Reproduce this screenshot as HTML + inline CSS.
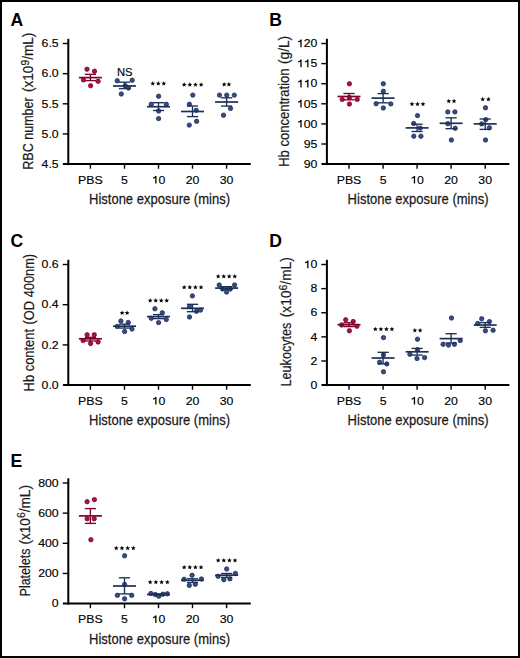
<!DOCTYPE html>
<html><head><meta charset="utf-8"><style>
html,body{margin:0;padding:0;background:#fff;}
body{width:520px;height:658px;overflow:hidden;font-family:"Liberation Sans",sans-serif;}
svg{display:block;}
text{font-family:"Liberation Sans",sans-serif;}
</style></head><body>
<svg width="520" height="658" viewBox="0 0 520 658" font-family="Liberation Sans, sans-serif">
<rect x="0" y="0" width="520" height="658" fill="#fff"/>
<g>
<text x="10.60" y="25.60" font-size="17.6" text-anchor="start" font-weight="bold" fill="#000">A</text>
<line x1="68.30" y1="38.80" x2="68.30" y2="165.10" stroke="#000" stroke-width="2.0" stroke-linecap="butt"/>
<line x1="62.90" y1="164.10" x2="250.80" y2="164.10" stroke="#000" stroke-width="2.0" stroke-linecap="butt"/>
<line x1="62.70" y1="43.50" x2="68.30" y2="43.50" stroke="#000" stroke-width="1.4" stroke-linecap="butt"/>
<text transform="translate(41.61,47.20) scale(1.06,1.0)" font-size="11.6" text-anchor="start" font-weight="normal" fill="#000" stroke="#000" stroke-width="0.15">6.5</text>
<line x1="62.70" y1="73.65" x2="68.30" y2="73.65" stroke="#000" stroke-width="1.4" stroke-linecap="butt"/>
<text transform="translate(41.61,77.35) scale(1.06,1.0)" font-size="11.6" text-anchor="start" font-weight="normal" fill="#000" stroke="#000" stroke-width="0.15">6.0</text>
<line x1="62.70" y1="103.80" x2="68.30" y2="103.80" stroke="#000" stroke-width="1.4" stroke-linecap="butt"/>
<text transform="translate(41.61,107.50) scale(1.06,1.0)" font-size="11.6" text-anchor="start" font-weight="normal" fill="#000" stroke="#000" stroke-width="0.15">5.5</text>
<line x1="62.70" y1="133.95" x2="68.30" y2="133.95" stroke="#000" stroke-width="1.4" stroke-linecap="butt"/>
<text transform="translate(41.61,137.65) scale(1.06,1.0)" font-size="11.6" text-anchor="start" font-weight="normal" fill="#000" stroke="#000" stroke-width="0.15">5.0</text>
<text transform="translate(41.61,167.80) scale(1.06,1.0)" font-size="11.6" text-anchor="start" font-weight="normal" fill="#000" stroke="#000" stroke-width="0.15">4.5</text>
<line x1="90.40" y1="164.10" x2="90.40" y2="168.70" stroke="#000" stroke-width="1.4" stroke-linecap="butt"/>
<text transform="translate(78.10,183.60) scale(1.06,1.0)" font-size="11.6" text-anchor="start" font-weight="normal" fill="#000" stroke="#000" stroke-width="0.15">PBS</text>
<line x1="124.50" y1="164.10" x2="124.50" y2="168.70" stroke="#000" stroke-width="1.4" stroke-linecap="butt"/>
<text transform="translate(121.08,183.60) scale(1.06,1.0)" font-size="11.6" text-anchor="start" font-weight="normal" fill="#000" stroke="#000" stroke-width="0.15">5</text>
<line x1="158.50" y1="164.10" x2="158.50" y2="168.70" stroke="#000" stroke-width="1.4" stroke-linecap="butt"/>
<path d="M155.87,183.60 V175.92 M156.22,176.17 C155.27,177.62 154.27,178.02 153.03,178.12" fill="none" stroke="#000" stroke-width="1.3"/>
<text transform="translate(158.50,183.60) scale(1.06,1.0)" font-size="11.6" text-anchor="start" font-weight="normal" fill="#000" stroke="#000" stroke-width="0.15">0</text>
<line x1="192.50" y1="164.10" x2="192.50" y2="168.70" stroke="#000" stroke-width="1.4" stroke-linecap="butt"/>
<text transform="translate(185.66,183.60) scale(1.06,1.0)" font-size="11.6" text-anchor="start" font-weight="normal" fill="#000" stroke="#000" stroke-width="0.15">20</text>
<line x1="226.60" y1="164.10" x2="226.60" y2="168.70" stroke="#000" stroke-width="1.4" stroke-linecap="butt"/>
<text transform="translate(219.76,183.60) scale(1.06,1.0)" font-size="11.6" text-anchor="start" font-weight="normal" fill="#000" stroke="#000" stroke-width="0.15">30</text>
<text transform="translate(89.00,204.30) scale(0.868,1.0)" font-size="15" text-anchor="start" font-weight="normal" fill="#1a1a1a" stroke="#1a1a1a" stroke-width="0.25">Histone exposure (mins)</text>
<text transform="translate(33.20,169.70) rotate(-90) scale(0.8365,1)" font-size="15" fill="#1a1a1a" stroke="#1a1a1a" stroke-width="0.2">RBC number</text>
<text transform="translate(33.20,92.00) rotate(-90) scale(0.9066,1)" font-size="15" fill="#1a1a1a" stroke="#1a1a1a" stroke-width="0.2">(x10<tspan font-size="11.4" dy="-4.6">9</tspan><tspan dy="4.6">/mL)</tspan></text>
<circle cx="87.00" cy="69.20" r="2.2" fill="#ae0e40" stroke="#70062a" stroke-width="0.75"/>
<circle cx="94.50" cy="71.20" r="2.2" fill="#ae0e40" stroke="#70062a" stroke-width="0.75"/>
<circle cx="83.40" cy="79.90" r="2.2" fill="#ae0e40" stroke="#70062a" stroke-width="0.75"/>
<circle cx="98.10" cy="81.30" r="2.2" fill="#ae0e40" stroke="#70062a" stroke-width="0.75"/>
<circle cx="90.60" cy="85.70" r="2.2" fill="#ae0e40" stroke="#70062a" stroke-width="0.75"/>
<line x1="90.40" y1="74.33" x2="90.40" y2="80.59" stroke="#7c0628" stroke-width="1.35" stroke-linecap="butt"/>
<line x1="84.80" y1="74.33" x2="96.00" y2="74.33" stroke="#7c0628" stroke-width="1.35" stroke-linecap="butt"/>
<line x1="84.80" y1="80.59" x2="96.00" y2="80.59" stroke="#7c0628" stroke-width="1.35" stroke-linecap="butt"/>
<line x1="78.90" y1="77.60" x2="101.90" y2="77.60" stroke="#7c0628" stroke-width="1.7" stroke-linecap="butt"/>
<circle cx="117.20" cy="80.80" r="2.2" fill="#354d83" stroke="#1d2a50" stroke-width="0.75"/>
<circle cx="132.20" cy="80.20" r="2.2" fill="#354d83" stroke="#1d2a50" stroke-width="0.75"/>
<circle cx="125.30" cy="85.70" r="2.2" fill="#354d83" stroke="#1d2a50" stroke-width="0.75"/>
<circle cx="128.50" cy="88.00" r="2.2" fill="#354d83" stroke="#1d2a50" stroke-width="0.75"/>
<circle cx="121.30" cy="94.00" r="2.2" fill="#354d83" stroke="#1d2a50" stroke-width="0.75"/>
<line x1="124.50" y1="82.20" x2="124.50" y2="88.60" stroke="#1c3058" stroke-width="1.35" stroke-linecap="butt"/>
<line x1="118.90" y1="82.20" x2="130.10" y2="82.20" stroke="#1c3058" stroke-width="1.35" stroke-linecap="butt"/>
<line x1="118.90" y1="88.60" x2="130.10" y2="88.60" stroke="#1c3058" stroke-width="1.35" stroke-linecap="butt"/>
<line x1="113.00" y1="86.00" x2="136.00" y2="86.00" stroke="#1c3058" stroke-width="1.7" stroke-linecap="butt"/>
<circle cx="158.60" cy="96.20" r="2.2" fill="#354d83" stroke="#1d2a50" stroke-width="0.75"/>
<circle cx="151.20" cy="104.30" r="2.2" fill="#354d83" stroke="#1d2a50" stroke-width="0.75"/>
<circle cx="166.30" cy="104.30" r="2.2" fill="#354d83" stroke="#1d2a50" stroke-width="0.75"/>
<circle cx="158.60" cy="111.00" r="2.2" fill="#354d83" stroke="#1d2a50" stroke-width="0.75"/>
<circle cx="158.60" cy="118.60" r="2.2" fill="#354d83" stroke="#1d2a50" stroke-width="0.75"/>
<line x1="158.50" y1="102.70" x2="158.50" y2="110.50" stroke="#1c3058" stroke-width="1.35" stroke-linecap="butt"/>
<line x1="152.90" y1="102.70" x2="164.10" y2="102.70" stroke="#1c3058" stroke-width="1.35" stroke-linecap="butt"/>
<line x1="152.90" y1="110.50" x2="164.10" y2="110.50" stroke="#1c3058" stroke-width="1.35" stroke-linecap="butt"/>
<line x1="147.00" y1="106.70" x2="170.00" y2="106.70" stroke="#1c3058" stroke-width="1.7" stroke-linecap="butt"/>
<circle cx="192.80" cy="95.10" r="2.2" fill="#354d83" stroke="#1d2a50" stroke-width="0.75"/>
<circle cx="189.40" cy="104.30" r="2.2" fill="#354d83" stroke="#1d2a50" stroke-width="0.75"/>
<circle cx="196.20" cy="110.30" r="2.2" fill="#354d83" stroke="#1d2a50" stroke-width="0.75"/>
<circle cx="196.60" cy="121.30" r="2.2" fill="#354d83" stroke="#1d2a50" stroke-width="0.75"/>
<circle cx="189.30" cy="125.10" r="2.2" fill="#354d83" stroke="#1d2a50" stroke-width="0.75"/>
<line x1="192.50" y1="106.00" x2="192.50" y2="116.60" stroke="#1c3058" stroke-width="1.35" stroke-linecap="butt"/>
<line x1="186.90" y1="106.00" x2="198.10" y2="106.00" stroke="#1c3058" stroke-width="1.35" stroke-linecap="butt"/>
<line x1="186.90" y1="116.60" x2="198.10" y2="116.60" stroke="#1c3058" stroke-width="1.35" stroke-linecap="butt"/>
<line x1="181.00" y1="111.50" x2="204.00" y2="111.50" stroke="#1c3058" stroke-width="1.7" stroke-linecap="butt"/>
<circle cx="219.50" cy="95.10" r="2.2" fill="#354d83" stroke="#1d2a50" stroke-width="0.75"/>
<circle cx="226.70" cy="95.10" r="2.2" fill="#354d83" stroke="#1d2a50" stroke-width="0.75"/>
<circle cx="234.30" cy="95.10" r="2.2" fill="#354d83" stroke="#1d2a50" stroke-width="0.75"/>
<circle cx="230.50" cy="108.40" r="2.2" fill="#354d83" stroke="#1d2a50" stroke-width="0.75"/>
<circle cx="223.50" cy="115.20" r="2.2" fill="#354d83" stroke="#1d2a50" stroke-width="0.75"/>
<line x1="226.60" y1="97.80" x2="226.60" y2="106.10" stroke="#1c3058" stroke-width="1.35" stroke-linecap="butt"/>
<line x1="221.00" y1="97.80" x2="232.20" y2="97.80" stroke="#1c3058" stroke-width="1.35" stroke-linecap="butt"/>
<line x1="221.00" y1="106.10" x2="232.20" y2="106.10" stroke="#1c3058" stroke-width="1.35" stroke-linecap="butt"/>
<line x1="215.10" y1="102.00" x2="238.10" y2="102.00" stroke="#1c3058" stroke-width="1.7" stroke-linecap="butt"/>
<text x="124.70" y="75.60" font-size="11.2" text-anchor="middle" font-weight="normal" fill="#000" stroke="#000" stroke-width="0.15">NS</text>
<polygon points="152.78,81.10 153.43,82.69 155.15,82.83 153.84,83.95 154.24,85.62 152.78,84.72 151.31,85.62 151.71,83.95 150.40,82.83 152.12,82.69" fill="#000"/>
<polygon points="158.30,81.10 158.96,82.69 160.68,82.83 159.37,83.95 159.77,85.62 158.30,84.72 156.83,85.62 157.23,83.95 155.92,82.83 157.64,82.69" fill="#000"/>
<polygon points="163.82,81.10 164.48,82.69 166.20,82.83 164.89,83.95 165.29,85.62 163.82,84.72 162.36,85.62 162.76,83.95 161.45,82.83 163.17,82.69" fill="#000"/>
<polygon points="184.18,82.20 184.83,83.79 186.55,83.93 185.24,85.05 185.64,86.72 184.18,85.82 182.71,86.72 183.11,85.05 181.80,83.93 183.52,83.79" fill="#000"/>
<polygon points="189.83,82.20 190.48,83.79 192.20,83.93 190.89,85.05 191.29,86.72 189.83,85.82 188.36,86.72 188.76,85.05 187.45,83.93 189.17,83.79" fill="#000"/>
<polygon points="195.47,82.20 196.13,83.79 197.85,83.93 196.54,85.05 196.94,86.72 195.47,85.82 194.01,86.72 194.41,85.05 193.10,83.93 194.82,83.79" fill="#000"/>
<polygon points="201.12,82.20 201.78,83.79 203.50,83.93 202.19,85.05 202.59,86.72 201.12,85.82 199.66,86.72 200.06,85.05 198.75,83.93 200.47,83.79" fill="#000"/>
<polygon points="224.18,82.00 224.83,83.59 226.55,83.73 225.24,84.85 225.64,86.52 224.18,85.62 222.71,86.52 223.11,84.85 221.80,83.73 223.52,83.59" fill="#000"/>
<polygon points="228.93,82.00 229.58,83.59 231.30,83.73 229.99,84.85 230.39,86.52 228.93,85.62 227.46,86.52 227.86,84.85 226.55,83.73 228.27,83.59" fill="#000"/>
<text x="269.20" y="25.60" font-size="17.6" text-anchor="start" font-weight="bold" fill="#000">B</text>
<line x1="326.90" y1="38.80" x2="326.90" y2="165.10" stroke="#000" stroke-width="2.0" stroke-linecap="butt"/>
<line x1="321.50" y1="164.10" x2="509.40" y2="164.10" stroke="#000" stroke-width="2.0" stroke-linecap="butt"/>
<line x1="321.30" y1="43.50" x2="326.90" y2="43.50" stroke="#000" stroke-width="1.4" stroke-linecap="butt"/>
<path d="M300.99,47.20 V39.52 M301.34,39.77 C300.39,41.22 299.39,41.62 298.16,41.72" fill="none" stroke="#000" stroke-width="1.3"/>
<text transform="translate(303.63,47.20) scale(1.06,1.0)" font-size="11.6" text-anchor="start" font-weight="normal" fill="#000" stroke="#000" stroke-width="0.15">20</text>
<line x1="321.30" y1="63.60" x2="326.90" y2="63.60" stroke="#000" stroke-width="1.4" stroke-linecap="butt"/>
<path d="M300.99,67.30 V59.62 M301.34,59.87 C300.39,61.32 299.39,61.72 298.16,61.82" fill="none" stroke="#000" stroke-width="1.3"/>
<path d="M307.83,67.30 V59.62 M308.18,59.87 C307.23,61.32 306.23,61.72 304.99,61.82" fill="none" stroke="#000" stroke-width="1.3"/>
<text transform="translate(310.46,67.30) scale(1.06,1.0)" font-size="11.6" text-anchor="start" font-weight="normal" fill="#000" stroke="#000" stroke-width="0.15">5</text>
<line x1="321.30" y1="83.70" x2="326.90" y2="83.70" stroke="#000" stroke-width="1.4" stroke-linecap="butt"/>
<path d="M300.99,87.40 V79.72 M301.34,79.97 C300.39,81.42 299.39,81.82 298.16,81.92" fill="none" stroke="#000" stroke-width="1.3"/>
<path d="M307.83,87.40 V79.72 M308.18,79.97 C307.23,81.42 306.23,81.82 304.99,81.92" fill="none" stroke="#000" stroke-width="1.3"/>
<text transform="translate(310.46,87.40) scale(1.06,1.0)" font-size="11.6" text-anchor="start" font-weight="normal" fill="#000" stroke="#000" stroke-width="0.15">0</text>
<line x1="321.30" y1="103.80" x2="326.90" y2="103.80" stroke="#000" stroke-width="1.4" stroke-linecap="butt"/>
<path d="M300.99,107.50 V99.82 M301.34,100.07 C300.39,101.52 299.39,101.92 298.16,102.02" fill="none" stroke="#000" stroke-width="1.3"/>
<text transform="translate(303.63,107.50) scale(1.06,1.0)" font-size="11.6" text-anchor="start" font-weight="normal" fill="#000" stroke="#000" stroke-width="0.15">05</text>
<line x1="321.30" y1="123.90" x2="326.90" y2="123.90" stroke="#000" stroke-width="1.4" stroke-linecap="butt"/>
<path d="M300.99,127.60 V119.92 M301.34,120.17 C300.39,121.62 299.39,122.02 298.16,122.12" fill="none" stroke="#000" stroke-width="1.3"/>
<text transform="translate(303.63,127.60) scale(1.06,1.0)" font-size="11.6" text-anchor="start" font-weight="normal" fill="#000" stroke="#000" stroke-width="0.15">00</text>
<line x1="321.30" y1="144.00" x2="326.90" y2="144.00" stroke="#000" stroke-width="1.4" stroke-linecap="butt"/>
<text transform="translate(303.63,147.70) scale(1.06,1.0)" font-size="11.6" text-anchor="start" font-weight="normal" fill="#000" stroke="#000" stroke-width="0.15">95</text>
<text transform="translate(303.63,167.80) scale(1.06,1.0)" font-size="11.6" text-anchor="start" font-weight="normal" fill="#000" stroke="#000" stroke-width="0.15">90</text>
<line x1="349.00" y1="164.10" x2="349.00" y2="168.70" stroke="#000" stroke-width="1.4" stroke-linecap="butt"/>
<text transform="translate(336.70,183.60) scale(1.06,1.0)" font-size="11.6" text-anchor="start" font-weight="normal" fill="#000" stroke="#000" stroke-width="0.15">PBS</text>
<line x1="383.10" y1="164.10" x2="383.10" y2="168.70" stroke="#000" stroke-width="1.4" stroke-linecap="butt"/>
<text transform="translate(379.68,183.60) scale(1.06,1.0)" font-size="11.6" text-anchor="start" font-weight="normal" fill="#000" stroke="#000" stroke-width="0.15">5</text>
<line x1="417.10" y1="164.10" x2="417.10" y2="168.70" stroke="#000" stroke-width="1.4" stroke-linecap="butt"/>
<path d="M414.47,183.60 V175.92 M414.82,176.17 C413.87,177.62 412.87,178.02 411.63,178.12" fill="none" stroke="#000" stroke-width="1.3"/>
<text transform="translate(417.10,183.60) scale(1.06,1.0)" font-size="11.6" text-anchor="start" font-weight="normal" fill="#000" stroke="#000" stroke-width="0.15">0</text>
<line x1="451.10" y1="164.10" x2="451.10" y2="168.70" stroke="#000" stroke-width="1.4" stroke-linecap="butt"/>
<text transform="translate(444.26,183.60) scale(1.06,1.0)" font-size="11.6" text-anchor="start" font-weight="normal" fill="#000" stroke="#000" stroke-width="0.15">20</text>
<line x1="485.20" y1="164.10" x2="485.20" y2="168.70" stroke="#000" stroke-width="1.4" stroke-linecap="butt"/>
<text transform="translate(478.36,183.60) scale(1.06,1.0)" font-size="11.6" text-anchor="start" font-weight="normal" fill="#000" stroke="#000" stroke-width="0.15">30</text>
<text transform="translate(347.60,204.30) scale(0.868,1.0)" font-size="15" text-anchor="start" font-weight="normal" fill="#1a1a1a" stroke="#1a1a1a" stroke-width="0.25">Histone exposure (mins)</text>
<text transform="translate(289.00,166.80) rotate(-90) scale(0.8686,1)" font-size="15" fill="#1a1a1a" stroke="#1a1a1a" stroke-width="0.2">Hb concentration</text>
<text transform="translate(289.00,63.90) rotate(-90) scale(0.9065,1)" font-size="15" fill="#1a1a1a" stroke="#1a1a1a" stroke-width="0.2">(g/L)</text>
<circle cx="349.40" cy="83.80" r="2.2" fill="#ae0e40" stroke="#70062a" stroke-width="0.75"/>
<circle cx="342.20" cy="99.40" r="2.2" fill="#ae0e40" stroke="#70062a" stroke-width="0.75"/>
<circle cx="357.20" cy="99.40" r="2.2" fill="#ae0e40" stroke="#70062a" stroke-width="0.75"/>
<circle cx="349.40" cy="104.00" r="2.2" fill="#ae0e40" stroke="#70062a" stroke-width="0.75"/>
<circle cx="349.40" cy="97.50" r="2.2" fill="#ae0e40" stroke="#70062a" stroke-width="0.75"/>
<line x1="349.00" y1="93.50" x2="349.00" y2="99.80" stroke="#7c0628" stroke-width="1.35" stroke-linecap="butt"/>
<line x1="343.40" y1="93.50" x2="354.60" y2="93.50" stroke="#7c0628" stroke-width="1.35" stroke-linecap="butt"/>
<line x1="343.40" y1="99.80" x2="354.60" y2="99.80" stroke="#7c0628" stroke-width="1.35" stroke-linecap="butt"/>
<line x1="337.50" y1="96.50" x2="360.50" y2="96.50" stroke="#7c0628" stroke-width="1.7" stroke-linecap="butt"/>
<circle cx="383.30" cy="83.80" r="2.2" fill="#354d83" stroke="#1d2a50" stroke-width="0.75"/>
<circle cx="383.30" cy="91.30" r="2.2" fill="#354d83" stroke="#1d2a50" stroke-width="0.75"/>
<circle cx="376.10" cy="103.70" r="2.2" fill="#354d83" stroke="#1d2a50" stroke-width="0.75"/>
<circle cx="390.80" cy="103.90" r="2.2" fill="#354d83" stroke="#1d2a50" stroke-width="0.75"/>
<circle cx="383.30" cy="108.00" r="2.2" fill="#354d83" stroke="#1d2a50" stroke-width="0.75"/>
<line x1="383.10" y1="93.60" x2="383.10" y2="102.80" stroke="#1c3058" stroke-width="1.35" stroke-linecap="butt"/>
<line x1="377.50" y1="93.60" x2="388.70" y2="93.60" stroke="#1c3058" stroke-width="1.35" stroke-linecap="butt"/>
<line x1="377.50" y1="102.80" x2="388.70" y2="102.80" stroke="#1c3058" stroke-width="1.35" stroke-linecap="butt"/>
<line x1="371.60" y1="98.10" x2="394.60" y2="98.10" stroke="#1c3058" stroke-width="1.7" stroke-linecap="butt"/>
<circle cx="417.50" cy="115.60" r="2.2" fill="#354d83" stroke="#1d2a50" stroke-width="0.75"/>
<circle cx="413.70" cy="123.50" r="2.2" fill="#354d83" stroke="#1d2a50" stroke-width="0.75"/>
<circle cx="420.20" cy="128.10" r="2.2" fill="#354d83" stroke="#1d2a50" stroke-width="0.75"/>
<circle cx="413.80" cy="136.20" r="2.2" fill="#354d83" stroke="#1d2a50" stroke-width="0.75"/>
<circle cx="420.90" cy="136.20" r="2.2" fill="#354d83" stroke="#1d2a50" stroke-width="0.75"/>
<line x1="417.10" y1="124.20" x2="417.10" y2="131.50" stroke="#1c3058" stroke-width="1.35" stroke-linecap="butt"/>
<line x1="411.50" y1="124.20" x2="422.70" y2="124.20" stroke="#1c3058" stroke-width="1.35" stroke-linecap="butt"/>
<line x1="411.50" y1="131.50" x2="422.70" y2="131.50" stroke="#1c3058" stroke-width="1.35" stroke-linecap="butt"/>
<line x1="405.60" y1="127.90" x2="428.60" y2="127.90" stroke="#1c3058" stroke-width="1.7" stroke-linecap="butt"/>
<circle cx="447.80" cy="111.90" r="2.2" fill="#354d83" stroke="#1d2a50" stroke-width="0.75"/>
<circle cx="454.90" cy="111.90" r="2.2" fill="#354d83" stroke="#1d2a50" stroke-width="0.75"/>
<circle cx="447.80" cy="123.70" r="2.2" fill="#354d83" stroke="#1d2a50" stroke-width="0.75"/>
<circle cx="455.20" cy="128.30" r="2.2" fill="#354d83" stroke="#1d2a50" stroke-width="0.75"/>
<circle cx="451.40" cy="140.00" r="2.2" fill="#354d83" stroke="#1d2a50" stroke-width="0.75"/>
<line x1="451.10" y1="117.80" x2="451.10" y2="128.70" stroke="#1c3058" stroke-width="1.35" stroke-linecap="butt"/>
<line x1="445.50" y1="117.80" x2="456.70" y2="117.80" stroke="#1c3058" stroke-width="1.35" stroke-linecap="butt"/>
<line x1="445.50" y1="128.70" x2="456.70" y2="128.70" stroke="#1c3058" stroke-width="1.35" stroke-linecap="butt"/>
<line x1="439.60" y1="123.30" x2="462.60" y2="123.30" stroke="#1c3058" stroke-width="1.7" stroke-linecap="butt"/>
<circle cx="485.50" cy="107.80" r="2.2" fill="#354d83" stroke="#1d2a50" stroke-width="0.75"/>
<circle cx="485.80" cy="119.60" r="2.2" fill="#354d83" stroke="#1d2a50" stroke-width="0.75"/>
<circle cx="481.70" cy="123.90" r="2.2" fill="#354d83" stroke="#1d2a50" stroke-width="0.75"/>
<circle cx="489.40" cy="127.80" r="2.2" fill="#354d83" stroke="#1d2a50" stroke-width="0.75"/>
<circle cx="485.50" cy="140.00" r="2.2" fill="#354d83" stroke="#1d2a50" stroke-width="0.75"/>
<line x1="485.20" y1="119.00" x2="485.20" y2="129.40" stroke="#1c3058" stroke-width="1.35" stroke-linecap="butt"/>
<line x1="479.60" y1="119.00" x2="490.80" y2="119.00" stroke="#1c3058" stroke-width="1.35" stroke-linecap="butt"/>
<line x1="479.60" y1="129.40" x2="490.80" y2="129.40" stroke="#1c3058" stroke-width="1.35" stroke-linecap="butt"/>
<line x1="473.70" y1="123.90" x2="496.70" y2="123.90" stroke="#1c3058" stroke-width="1.7" stroke-linecap="butt"/>
<polygon points="411.98,101.55 412.63,103.14 414.35,103.28 413.04,104.40 413.44,106.07 411.98,105.17 410.51,106.07 410.91,104.40 409.60,103.28 411.32,103.14" fill="#000"/>
<polygon points="417.50,101.55 418.16,103.14 419.88,103.28 418.57,104.40 418.97,106.07 417.50,105.17 416.03,106.07 416.43,104.40 415.12,103.28 416.84,103.14" fill="#000"/>
<polygon points="423.02,101.55 423.68,103.14 425.40,103.28 424.09,104.40 424.49,106.07 423.02,105.17 421.56,106.07 421.96,104.40 420.65,103.28 422.37,103.14" fill="#000"/>
<polygon points="448.77,98.70 449.43,100.29 451.15,100.43 449.84,101.55 450.24,103.22 448.77,102.32 447.31,103.22 447.71,101.55 446.40,100.43 448.12,100.29" fill="#000"/>
<polygon points="454.02,98.70 454.68,100.29 456.40,100.43 455.09,101.55 455.49,103.22 454.02,102.32 452.56,103.22 452.96,101.55 451.65,100.43 453.37,100.29" fill="#000"/>
<polygon points="482.68,96.80 483.33,98.39 485.05,98.53 483.74,99.65 484.14,101.32 482.68,100.42 481.21,101.32 481.61,99.65 480.30,98.53 482.02,98.39" fill="#000"/>
<polygon points="488.43,96.80 489.08,98.39 490.80,98.53 489.49,99.65 489.89,101.32 488.43,100.42 486.96,101.32 487.36,99.65 486.05,98.53 487.77,98.39" fill="#000"/>
<text x="10.60" y="246.60" font-size="17.6" text-anchor="start" font-weight="bold" fill="#000">C</text>
<line x1="68.30" y1="259.80" x2="68.30" y2="386.10" stroke="#000" stroke-width="2.0" stroke-linecap="butt"/>
<line x1="62.90" y1="385.10" x2="250.80" y2="385.10" stroke="#000" stroke-width="2.0" stroke-linecap="butt"/>
<line x1="62.70" y1="264.50" x2="68.30" y2="264.50" stroke="#000" stroke-width="1.4" stroke-linecap="butt"/>
<text transform="translate(41.61,268.20) scale(1.06,1.0)" font-size="11.6" text-anchor="start" font-weight="normal" fill="#000" stroke="#000" stroke-width="0.15">0.6</text>
<line x1="62.70" y1="304.70" x2="68.30" y2="304.70" stroke="#000" stroke-width="1.4" stroke-linecap="butt"/>
<text transform="translate(41.61,308.40) scale(1.06,1.0)" font-size="11.6" text-anchor="start" font-weight="normal" fill="#000" stroke="#000" stroke-width="0.15">0.4</text>
<line x1="62.70" y1="344.90" x2="68.30" y2="344.90" stroke="#000" stroke-width="1.4" stroke-linecap="butt"/>
<text transform="translate(41.61,348.60) scale(1.06,1.0)" font-size="11.6" text-anchor="start" font-weight="normal" fill="#000" stroke="#000" stroke-width="0.15">0.2</text>
<text transform="translate(41.61,388.80) scale(1.06,1.0)" font-size="11.6" text-anchor="start" font-weight="normal" fill="#000" stroke="#000" stroke-width="0.15">0.0</text>
<line x1="90.40" y1="385.10" x2="90.40" y2="389.70" stroke="#000" stroke-width="1.4" stroke-linecap="butt"/>
<text transform="translate(78.10,404.60) scale(1.06,1.0)" font-size="11.6" text-anchor="start" font-weight="normal" fill="#000" stroke="#000" stroke-width="0.15">PBS</text>
<line x1="124.50" y1="385.10" x2="124.50" y2="389.70" stroke="#000" stroke-width="1.4" stroke-linecap="butt"/>
<text transform="translate(121.08,404.60) scale(1.06,1.0)" font-size="11.6" text-anchor="start" font-weight="normal" fill="#000" stroke="#000" stroke-width="0.15">5</text>
<line x1="158.50" y1="385.10" x2="158.50" y2="389.70" stroke="#000" stroke-width="1.4" stroke-linecap="butt"/>
<path d="M155.87,404.60 V396.92 M156.22,397.17 C155.27,398.62 154.27,399.02 153.03,399.12" fill="none" stroke="#000" stroke-width="1.3"/>
<text transform="translate(158.50,404.60) scale(1.06,1.0)" font-size="11.6" text-anchor="start" font-weight="normal" fill="#000" stroke="#000" stroke-width="0.15">0</text>
<line x1="192.50" y1="385.10" x2="192.50" y2="389.70" stroke="#000" stroke-width="1.4" stroke-linecap="butt"/>
<text transform="translate(185.66,404.60) scale(1.06,1.0)" font-size="11.6" text-anchor="start" font-weight="normal" fill="#000" stroke="#000" stroke-width="0.15">20</text>
<line x1="226.60" y1="385.10" x2="226.60" y2="389.70" stroke="#000" stroke-width="1.4" stroke-linecap="butt"/>
<text transform="translate(219.76,404.60) scale(1.06,1.0)" font-size="11.6" text-anchor="start" font-weight="normal" fill="#000" stroke="#000" stroke-width="0.15">30</text>
<text transform="translate(89.00,425.30) scale(0.868,1.0)" font-size="15" text-anchor="start" font-weight="normal" fill="#1a1a1a" stroke="#1a1a1a" stroke-width="0.25">Histone exposure (mins)</text>
<text transform="translate(33.80,391.40) rotate(-90) scale(0.861,1)" font-size="15" fill="#1a1a1a" stroke="#1a1a1a" stroke-width="0.2">Hb content</text>
<text transform="translate(33.80,324.40) rotate(-90) scale(0.855,1)" font-size="15" fill="#1a1a1a" stroke="#1a1a1a" stroke-width="0.2">(OD 400nm)</text>
<circle cx="87.10" cy="334.80" r="2.2" fill="#ae0e40" stroke="#70062a" stroke-width="0.75"/>
<circle cx="94.30" cy="334.80" r="2.2" fill="#ae0e40" stroke="#70062a" stroke-width="0.75"/>
<circle cx="83.10" cy="340.60" r="2.2" fill="#ae0e40" stroke="#70062a" stroke-width="0.75"/>
<circle cx="90.60" cy="343.50" r="2.2" fill="#ae0e40" stroke="#70062a" stroke-width="0.75"/>
<circle cx="98.10" cy="342.00" r="2.2" fill="#ae0e40" stroke="#70062a" stroke-width="0.75"/>
<line x1="90.40" y1="337.31" x2="90.40" y2="340.97" stroke="#7c0628" stroke-width="1.35" stroke-linecap="butt"/>
<line x1="84.80" y1="337.31" x2="96.00" y2="337.31" stroke="#7c0628" stroke-width="1.35" stroke-linecap="butt"/>
<line x1="84.80" y1="340.97" x2="96.00" y2="340.97" stroke="#7c0628" stroke-width="1.35" stroke-linecap="butt"/>
<line x1="78.90" y1="338.80" x2="101.90" y2="338.80" stroke="#7c0628" stroke-width="1.7" stroke-linecap="butt"/>
<circle cx="120.90" cy="321.00" r="2.2" fill="#354d83" stroke="#1d2a50" stroke-width="0.75"/>
<circle cx="128.30" cy="322.50" r="2.2" fill="#354d83" stroke="#1d2a50" stroke-width="0.75"/>
<circle cx="117.20" cy="326.50" r="2.2" fill="#354d83" stroke="#1d2a50" stroke-width="0.75"/>
<circle cx="124.60" cy="331.50" r="2.2" fill="#354d83" stroke="#1d2a50" stroke-width="0.75"/>
<circle cx="132.00" cy="329.00" r="2.2" fill="#354d83" stroke="#1d2a50" stroke-width="0.75"/>
<line x1="124.50" y1="324.14" x2="124.50" y2="328.06" stroke="#1c3058" stroke-width="1.35" stroke-linecap="butt"/>
<line x1="118.90" y1="324.14" x2="130.10" y2="324.14" stroke="#1c3058" stroke-width="1.35" stroke-linecap="butt"/>
<line x1="118.90" y1="328.06" x2="130.10" y2="328.06" stroke="#1c3058" stroke-width="1.35" stroke-linecap="butt"/>
<line x1="113.00" y1="326.20" x2="136.00" y2="326.20" stroke="#1c3058" stroke-width="1.7" stroke-linecap="butt"/>
<circle cx="154.90" cy="308.80" r="2.2" fill="#354d83" stroke="#1d2a50" stroke-width="0.75"/>
<circle cx="162.30" cy="312.80" r="2.2" fill="#354d83" stroke="#1d2a50" stroke-width="0.75"/>
<circle cx="151.20" cy="318.30" r="2.2" fill="#354d83" stroke="#1d2a50" stroke-width="0.75"/>
<circle cx="166.30" cy="319.50" r="2.2" fill="#354d83" stroke="#1d2a50" stroke-width="0.75"/>
<circle cx="158.60" cy="322.60" r="2.2" fill="#354d83" stroke="#1d2a50" stroke-width="0.75"/>
<line x1="158.50" y1="314.60" x2="158.50" y2="318.60" stroke="#1c3058" stroke-width="1.35" stroke-linecap="butt"/>
<line x1="152.90" y1="314.60" x2="164.10" y2="314.60" stroke="#1c3058" stroke-width="1.35" stroke-linecap="butt"/>
<line x1="152.90" y1="318.60" x2="164.10" y2="318.60" stroke="#1c3058" stroke-width="1.35" stroke-linecap="butt"/>
<line x1="147.00" y1="316.60" x2="170.00" y2="316.60" stroke="#1c3058" stroke-width="1.7" stroke-linecap="butt"/>
<circle cx="192.40" cy="295.90" r="2.2" fill="#354d83" stroke="#1d2a50" stroke-width="0.75"/>
<circle cx="189.50" cy="306.70" r="2.2" fill="#354d83" stroke="#1d2a50" stroke-width="0.75"/>
<circle cx="196.50" cy="311.30" r="2.2" fill="#354d83" stroke="#1d2a50" stroke-width="0.75"/>
<circle cx="200.50" cy="310.10" r="2.2" fill="#354d83" stroke="#1d2a50" stroke-width="0.75"/>
<circle cx="189.50" cy="317.00" r="2.2" fill="#354d83" stroke="#1d2a50" stroke-width="0.75"/>
<line x1="192.50" y1="304.30" x2="192.50" y2="311.70" stroke="#1c3058" stroke-width="1.35" stroke-linecap="butt"/>
<line x1="186.90" y1="304.30" x2="198.10" y2="304.30" stroke="#1c3058" stroke-width="1.35" stroke-linecap="butt"/>
<line x1="186.90" y1="311.70" x2="198.10" y2="311.70" stroke="#1c3058" stroke-width="1.35" stroke-linecap="butt"/>
<line x1="181.00" y1="308.30" x2="204.00" y2="308.30" stroke="#1c3058" stroke-width="1.7" stroke-linecap="butt"/>
<circle cx="219.20" cy="285.00" r="2.2" fill="#354d83" stroke="#1d2a50" stroke-width="0.75"/>
<circle cx="234.60" cy="285.00" r="2.2" fill="#354d83" stroke="#1d2a50" stroke-width="0.75"/>
<circle cx="222.60" cy="289.00" r="2.2" fill="#354d83" stroke="#1d2a50" stroke-width="0.75"/>
<circle cx="230.30" cy="289.00" r="2.2" fill="#354d83" stroke="#1d2a50" stroke-width="0.75"/>
<circle cx="226.60" cy="292.10" r="2.2" fill="#354d83" stroke="#1d2a50" stroke-width="0.75"/>
<line x1="226.60" y1="286.66" x2="226.60" y2="289.38" stroke="#1c3058" stroke-width="1.35" stroke-linecap="butt"/>
<line x1="221.00" y1="286.66" x2="232.20" y2="286.66" stroke="#1c3058" stroke-width="1.35" stroke-linecap="butt"/>
<line x1="221.00" y1="289.38" x2="232.20" y2="289.38" stroke="#1c3058" stroke-width="1.35" stroke-linecap="butt"/>
<line x1="215.10" y1="288.10" x2="238.10" y2="288.10" stroke="#1c3058" stroke-width="1.7" stroke-linecap="butt"/>
<polygon points="122.08,310.50 122.73,312.09 124.45,312.23 123.14,313.35 123.54,315.02 122.08,314.12 120.61,315.02 121.01,313.35 119.70,312.23 121.42,312.09" fill="#000"/>
<polygon points="127.12,310.50 127.78,312.09 129.50,312.23 128.19,313.35 128.59,315.02 127.12,314.12 125.66,315.02 126.06,313.35 124.75,312.23 126.47,312.09" fill="#000"/>
<polygon points="150.18,298.10 150.83,299.69 152.55,299.83 151.24,300.95 151.64,302.62 150.18,301.72 148.71,302.62 149.11,300.95 147.80,299.83 149.52,299.69" fill="#000"/>
<polygon points="155.69,298.10 156.35,299.69 158.07,299.83 156.76,300.95 157.16,302.62 155.69,301.72 154.22,302.62 154.63,300.95 153.31,299.83 155.03,299.69" fill="#000"/>
<polygon points="161.21,298.10 161.87,299.69 163.59,299.83 162.27,300.95 162.68,302.62 161.21,301.72 159.74,302.62 160.14,300.95 158.83,299.83 160.55,299.69" fill="#000"/>
<polygon points="166.72,298.10 167.38,299.69 169.10,299.83 167.79,300.95 168.19,302.62 166.72,301.72 165.26,302.62 165.66,300.95 164.35,299.83 166.07,299.69" fill="#000"/>
<polygon points="184.18,284.80 184.83,286.39 186.55,286.53 185.24,287.65 185.64,289.32 184.18,288.42 182.71,289.32 183.11,287.65 181.80,286.53 183.52,286.39" fill="#000"/>
<polygon points="189.79,284.80 190.45,286.39 192.17,286.53 190.86,287.65 191.26,289.32 189.79,288.42 188.32,289.32 188.73,287.65 187.41,286.53 189.13,286.39" fill="#000"/>
<polygon points="195.41,284.80 196.07,286.39 197.79,286.53 196.47,287.65 196.88,289.32 195.41,288.42 193.94,289.32 194.34,287.65 193.03,286.53 194.75,286.39" fill="#000"/>
<polygon points="201.03,284.80 201.68,286.39 203.40,286.53 202.09,287.65 202.49,289.32 201.03,288.42 199.56,289.32 199.96,287.65 198.65,286.53 200.37,286.39" fill="#000"/>
<polygon points="218.18,274.00 218.83,275.59 220.55,275.73 219.24,276.85 219.64,278.52 218.18,277.62 216.71,278.52 217.11,276.85 215.80,275.73 217.52,275.59" fill="#000"/>
<polygon points="223.69,274.00 224.35,275.59 226.07,275.73 224.76,276.85 225.16,278.52 223.69,277.62 222.22,278.52 222.63,276.85 221.31,275.73 223.03,275.59" fill="#000"/>
<polygon points="229.21,274.00 229.87,275.59 231.59,275.73 230.27,276.85 230.68,278.52 229.21,277.62 227.74,278.52 228.14,276.85 226.83,275.73 228.55,275.59" fill="#000"/>
<polygon points="234.72,274.00 235.38,275.59 237.10,275.73 235.79,276.85 236.19,278.52 234.72,277.62 233.26,278.52 233.66,276.85 232.35,275.73 234.07,275.59" fill="#000"/>
<text x="269.20" y="246.60" font-size="17.6" text-anchor="start" font-weight="bold" fill="#000">D</text>
<line x1="326.90" y1="259.80" x2="326.90" y2="386.10" stroke="#000" stroke-width="2.0" stroke-linecap="butt"/>
<line x1="321.50" y1="385.10" x2="509.40" y2="385.10" stroke="#000" stroke-width="2.0" stroke-linecap="butt"/>
<line x1="321.30" y1="264.50" x2="326.90" y2="264.50" stroke="#000" stroke-width="1.4" stroke-linecap="butt"/>
<path d="M307.83,268.20 V260.52 M308.18,260.77 C307.23,262.22 306.23,262.62 304.99,262.72" fill="none" stroke="#000" stroke-width="1.3"/>
<text transform="translate(310.46,268.20) scale(1.06,1.0)" font-size="11.6" text-anchor="start" font-weight="normal" fill="#000" stroke="#000" stroke-width="0.15">0</text>
<line x1="321.30" y1="288.62" x2="326.90" y2="288.62" stroke="#000" stroke-width="1.4" stroke-linecap="butt"/>
<text transform="translate(310.46,292.32) scale(1.06,1.0)" font-size="11.6" text-anchor="start" font-weight="normal" fill="#000" stroke="#000" stroke-width="0.15">8</text>
<line x1="321.30" y1="312.74" x2="326.90" y2="312.74" stroke="#000" stroke-width="1.4" stroke-linecap="butt"/>
<text transform="translate(310.46,316.44) scale(1.06,1.0)" font-size="11.6" text-anchor="start" font-weight="normal" fill="#000" stroke="#000" stroke-width="0.15">6</text>
<line x1="321.30" y1="336.86" x2="326.90" y2="336.86" stroke="#000" stroke-width="1.4" stroke-linecap="butt"/>
<text transform="translate(310.46,340.56) scale(1.06,1.0)" font-size="11.6" text-anchor="start" font-weight="normal" fill="#000" stroke="#000" stroke-width="0.15">4</text>
<line x1="321.30" y1="360.98" x2="326.90" y2="360.98" stroke="#000" stroke-width="1.4" stroke-linecap="butt"/>
<text transform="translate(310.46,364.68) scale(1.06,1.0)" font-size="11.6" text-anchor="start" font-weight="normal" fill="#000" stroke="#000" stroke-width="0.15">2</text>
<text transform="translate(310.46,388.80) scale(1.06,1.0)" font-size="11.6" text-anchor="start" font-weight="normal" fill="#000" stroke="#000" stroke-width="0.15">0</text>
<line x1="349.00" y1="385.10" x2="349.00" y2="389.70" stroke="#000" stroke-width="1.4" stroke-linecap="butt"/>
<text transform="translate(336.70,404.60) scale(1.06,1.0)" font-size="11.6" text-anchor="start" font-weight="normal" fill="#000" stroke="#000" stroke-width="0.15">PBS</text>
<line x1="383.10" y1="385.10" x2="383.10" y2="389.70" stroke="#000" stroke-width="1.4" stroke-linecap="butt"/>
<text transform="translate(379.68,404.60) scale(1.06,1.0)" font-size="11.6" text-anchor="start" font-weight="normal" fill="#000" stroke="#000" stroke-width="0.15">5</text>
<line x1="417.10" y1="385.10" x2="417.10" y2="389.70" stroke="#000" stroke-width="1.4" stroke-linecap="butt"/>
<path d="M414.47,404.60 V396.92 M414.82,397.17 C413.87,398.62 412.87,399.02 411.63,399.12" fill="none" stroke="#000" stroke-width="1.3"/>
<text transform="translate(417.10,404.60) scale(1.06,1.0)" font-size="11.6" text-anchor="start" font-weight="normal" fill="#000" stroke="#000" stroke-width="0.15">0</text>
<line x1="451.10" y1="385.10" x2="451.10" y2="389.70" stroke="#000" stroke-width="1.4" stroke-linecap="butt"/>
<text transform="translate(444.26,404.60) scale(1.06,1.0)" font-size="11.6" text-anchor="start" font-weight="normal" fill="#000" stroke="#000" stroke-width="0.15">20</text>
<line x1="485.20" y1="385.10" x2="485.20" y2="389.70" stroke="#000" stroke-width="1.4" stroke-linecap="butt"/>
<text transform="translate(478.36,404.60) scale(1.06,1.0)" font-size="11.6" text-anchor="start" font-weight="normal" fill="#000" stroke="#000" stroke-width="0.15">30</text>
<text transform="translate(347.60,425.30) scale(0.868,1.0)" font-size="15" text-anchor="start" font-weight="normal" fill="#1a1a1a" stroke="#1a1a1a" stroke-width="0.25">Histone exposure (mins)</text>
<text transform="translate(291.40,386.40) rotate(-90) scale(0.841,1)" font-size="15" fill="#1a1a1a" stroke="#1a1a1a" stroke-width="0.2">Leukocytes</text>
<text transform="translate(291.40,317.20) rotate(-90) scale(0.916,1)" font-size="15" fill="#1a1a1a" stroke="#1a1a1a" stroke-width="0.2">(x10<tspan font-size="11.4" dy="-4.6">6</tspan><tspan dy="4.6">/mL)</tspan></text>
<circle cx="345.70" cy="319.80" r="2.2" fill="#ae0e40" stroke="#70062a" stroke-width="0.75"/>
<circle cx="353.20" cy="321.50" r="2.2" fill="#ae0e40" stroke="#70062a" stroke-width="0.75"/>
<circle cx="341.60" cy="325.00" r="2.2" fill="#ae0e40" stroke="#70062a" stroke-width="0.75"/>
<circle cx="356.90" cy="326.20" r="2.2" fill="#ae0e40" stroke="#70062a" stroke-width="0.75"/>
<circle cx="349.40" cy="330.80" r="2.2" fill="#ae0e40" stroke="#70062a" stroke-width="0.75"/>
<line x1="349.00" y1="322.74" x2="349.00" y2="326.58" stroke="#7c0628" stroke-width="1.35" stroke-linecap="butt"/>
<line x1="343.40" y1="322.74" x2="354.60" y2="322.74" stroke="#7c0628" stroke-width="1.35" stroke-linecap="butt"/>
<line x1="343.40" y1="326.58" x2="354.60" y2="326.58" stroke="#7c0628" stroke-width="1.35" stroke-linecap="butt"/>
<line x1="337.50" y1="324.70" x2="360.50" y2="324.70" stroke="#7c0628" stroke-width="1.7" stroke-linecap="butt"/>
<circle cx="383.50" cy="337.60" r="2.2" fill="#354d83" stroke="#1d2a50" stroke-width="0.75"/>
<circle cx="383.50" cy="355.00" r="2.2" fill="#354d83" stroke="#1d2a50" stroke-width="0.75"/>
<circle cx="379.70" cy="362.20" r="2.2" fill="#354d83" stroke="#1d2a50" stroke-width="0.75"/>
<circle cx="386.80" cy="363.90" r="2.2" fill="#354d83" stroke="#1d2a50" stroke-width="0.75"/>
<circle cx="383.50" cy="371.80" r="2.2" fill="#354d83" stroke="#1d2a50" stroke-width="0.75"/>
<line x1="383.10" y1="352.32" x2="383.10" y2="363.88" stroke="#1c3058" stroke-width="1.35" stroke-linecap="butt"/>
<line x1="377.50" y1="352.32" x2="388.70" y2="352.32" stroke="#1c3058" stroke-width="1.35" stroke-linecap="butt"/>
<line x1="377.50" y1="363.88" x2="388.70" y2="363.88" stroke="#1c3058" stroke-width="1.35" stroke-linecap="butt"/>
<line x1="371.60" y1="358.00" x2="394.60" y2="358.00" stroke="#1c3058" stroke-width="1.7" stroke-linecap="butt"/>
<circle cx="417.50" cy="339.20" r="2.2" fill="#354d83" stroke="#1d2a50" stroke-width="0.75"/>
<circle cx="417.50" cy="349.70" r="2.2" fill="#354d83" stroke="#1d2a50" stroke-width="0.75"/>
<circle cx="409.90" cy="354.30" r="2.2" fill="#354d83" stroke="#1d2a50" stroke-width="0.75"/>
<circle cx="417.00" cy="358.50" r="2.2" fill="#354d83" stroke="#1d2a50" stroke-width="0.75"/>
<circle cx="424.60" cy="357.60" r="2.2" fill="#354d83" stroke="#1d2a50" stroke-width="0.75"/>
<line x1="417.10" y1="348.40" x2="417.10" y2="355.10" stroke="#1c3058" stroke-width="1.35" stroke-linecap="butt"/>
<line x1="411.50" y1="348.40" x2="422.70" y2="348.40" stroke="#1c3058" stroke-width="1.35" stroke-linecap="butt"/>
<line x1="411.50" y1="355.10" x2="422.70" y2="355.10" stroke="#1c3058" stroke-width="1.35" stroke-linecap="butt"/>
<line x1="405.60" y1="351.80" x2="428.60" y2="351.80" stroke="#1c3058" stroke-width="1.7" stroke-linecap="butt"/>
<circle cx="451.50" cy="318.00" r="2.2" fill="#354d83" stroke="#1d2a50" stroke-width="0.75"/>
<circle cx="443.10" cy="344.30" r="2.2" fill="#354d83" stroke="#1d2a50" stroke-width="0.75"/>
<circle cx="448.50" cy="345.10" r="2.2" fill="#354d83" stroke="#1d2a50" stroke-width="0.75"/>
<circle cx="454.40" cy="344.30" r="2.2" fill="#354d83" stroke="#1d2a50" stroke-width="0.75"/>
<circle cx="460.20" cy="340.50" r="2.2" fill="#354d83" stroke="#1d2a50" stroke-width="0.75"/>
<line x1="451.10" y1="333.70" x2="451.10" y2="343.00" stroke="#1c3058" stroke-width="1.35" stroke-linecap="butt"/>
<line x1="445.50" y1="333.70" x2="456.70" y2="333.70" stroke="#1c3058" stroke-width="1.35" stroke-linecap="butt"/>
<line x1="445.50" y1="343.00" x2="456.70" y2="343.00" stroke="#1c3058" stroke-width="1.35" stroke-linecap="butt"/>
<line x1="439.60" y1="338.60" x2="462.60" y2="338.60" stroke="#1c3058" stroke-width="1.7" stroke-linecap="butt"/>
<circle cx="481.70" cy="318.80" r="2.2" fill="#354d83" stroke="#1d2a50" stroke-width="0.75"/>
<circle cx="489.40" cy="321.60" r="2.2" fill="#354d83" stroke="#1d2a50" stroke-width="0.75"/>
<circle cx="477.70" cy="323.50" r="2.2" fill="#354d83" stroke="#1d2a50" stroke-width="0.75"/>
<circle cx="485.40" cy="330.80" r="2.2" fill="#354d83" stroke="#1d2a50" stroke-width="0.75"/>
<circle cx="493.10" cy="330.20" r="2.2" fill="#354d83" stroke="#1d2a50" stroke-width="0.75"/>
<line x1="485.20" y1="322.60" x2="485.20" y2="327.36" stroke="#1c3058" stroke-width="1.35" stroke-linecap="butt"/>
<line x1="479.60" y1="322.60" x2="490.80" y2="322.60" stroke="#1c3058" stroke-width="1.35" stroke-linecap="butt"/>
<line x1="479.60" y1="327.36" x2="490.80" y2="327.36" stroke="#1c3058" stroke-width="1.35" stroke-linecap="butt"/>
<line x1="473.70" y1="325.00" x2="496.70" y2="325.00" stroke="#1c3058" stroke-width="1.7" stroke-linecap="butt"/>
<polygon points="375.38,326.70 376.03,328.29 377.75,328.43 376.44,329.55 376.84,331.22 375.38,330.32 373.91,331.22 374.31,329.55 373.00,328.43 374.72,328.29" fill="#000"/>
<polygon points="380.89,326.70 381.55,328.29 383.27,328.43 381.96,329.55 382.36,331.22 380.89,330.32 379.42,331.22 379.83,329.55 378.51,328.43 380.23,328.29" fill="#000"/>
<polygon points="386.41,326.70 387.07,328.29 388.79,328.43 387.47,329.55 387.88,331.22 386.41,330.32 384.94,331.22 385.34,329.55 384.03,328.43 385.75,328.29" fill="#000"/>
<polygon points="391.93,326.70 392.58,328.29 394.30,328.43 392.99,329.55 393.39,331.22 391.93,330.32 390.46,331.22 390.86,329.55 389.55,328.43 391.27,328.29" fill="#000"/>
<polygon points="414.88,327.95 415.53,329.54 417.25,329.68 415.94,330.80 416.34,332.47 414.88,331.57 413.41,332.47 413.81,330.80 412.50,329.68 414.22,329.54" fill="#000"/>
<polygon points="420.12,327.95 420.78,329.54 422.50,329.68 421.19,330.80 421.59,332.47 420.12,331.57 418.66,332.47 419.06,330.80 417.75,329.68 419.47,329.54" fill="#000"/>
<text x="10.60" y="467.40" font-size="17.6" text-anchor="start" font-weight="bold" fill="#000">E</text>
<line x1="68.30" y1="478.30" x2="68.30" y2="604.60" stroke="#000" stroke-width="2.0" stroke-linecap="butt"/>
<line x1="62.90" y1="603.60" x2="250.80" y2="603.60" stroke="#000" stroke-width="2.0" stroke-linecap="butt"/>
<line x1="62.70" y1="483.00" x2="68.30" y2="483.00" stroke="#000" stroke-width="1.4" stroke-linecap="butt"/>
<text transform="translate(38.19,486.70) scale(1.06,1.0)" font-size="11.6" text-anchor="start" font-weight="normal" fill="#000" stroke="#000" stroke-width="0.15">800</text>
<line x1="62.70" y1="513.15" x2="68.30" y2="513.15" stroke="#000" stroke-width="1.4" stroke-linecap="butt"/>
<text transform="translate(38.19,516.85) scale(1.06,1.0)" font-size="11.6" text-anchor="start" font-weight="normal" fill="#000" stroke="#000" stroke-width="0.15">600</text>
<line x1="62.70" y1="543.30" x2="68.30" y2="543.30" stroke="#000" stroke-width="1.4" stroke-linecap="butt"/>
<text transform="translate(38.19,547.00) scale(1.06,1.0)" font-size="11.6" text-anchor="start" font-weight="normal" fill="#000" stroke="#000" stroke-width="0.15">400</text>
<line x1="62.70" y1="573.45" x2="68.30" y2="573.45" stroke="#000" stroke-width="1.4" stroke-linecap="butt"/>
<text transform="translate(38.19,577.15) scale(1.06,1.0)" font-size="11.6" text-anchor="start" font-weight="normal" fill="#000" stroke="#000" stroke-width="0.15">200</text>
<text transform="translate(51.86,607.30) scale(1.06,1.0)" font-size="11.6" text-anchor="start" font-weight="normal" fill="#000" stroke="#000" stroke-width="0.15">0</text>
<line x1="90.40" y1="603.60" x2="90.40" y2="608.20" stroke="#000" stroke-width="1.4" stroke-linecap="butt"/>
<text transform="translate(78.10,623.10) scale(1.06,1.0)" font-size="11.6" text-anchor="start" font-weight="normal" fill="#000" stroke="#000" stroke-width="0.15">PBS</text>
<line x1="124.50" y1="603.60" x2="124.50" y2="608.20" stroke="#000" stroke-width="1.4" stroke-linecap="butt"/>
<text transform="translate(121.08,623.10) scale(1.06,1.0)" font-size="11.6" text-anchor="start" font-weight="normal" fill="#000" stroke="#000" stroke-width="0.15">5</text>
<line x1="158.50" y1="603.60" x2="158.50" y2="608.20" stroke="#000" stroke-width="1.4" stroke-linecap="butt"/>
<path d="M155.87,623.10 V615.42 M156.22,615.67 C155.27,617.12 154.27,617.52 153.03,617.62" fill="none" stroke="#000" stroke-width="1.3"/>
<text transform="translate(158.50,623.10) scale(1.06,1.0)" font-size="11.6" text-anchor="start" font-weight="normal" fill="#000" stroke="#000" stroke-width="0.15">0</text>
<line x1="192.50" y1="603.60" x2="192.50" y2="608.20" stroke="#000" stroke-width="1.4" stroke-linecap="butt"/>
<text transform="translate(185.66,623.10) scale(1.06,1.0)" font-size="11.6" text-anchor="start" font-weight="normal" fill="#000" stroke="#000" stroke-width="0.15">20</text>
<line x1="226.60" y1="603.60" x2="226.60" y2="608.20" stroke="#000" stroke-width="1.4" stroke-linecap="butt"/>
<text transform="translate(219.76,623.10) scale(1.06,1.0)" font-size="11.6" text-anchor="start" font-weight="normal" fill="#000" stroke="#000" stroke-width="0.15">30</text>
<text transform="translate(89.00,643.80) scale(0.868,1.0)" font-size="15" text-anchor="start" font-weight="normal" fill="#1a1a1a" stroke="#1a1a1a" stroke-width="0.25">Histone exposure (mins)</text>
<text transform="translate(29.70,596.40) rotate(-90) scale(0.831,1)" font-size="15" fill="#1a1a1a" stroke="#1a1a1a" stroke-width="0.2">Platelets</text>
<text transform="translate(29.70,544.60) rotate(-90) scale(0.91,1)" font-size="15" fill="#1a1a1a" stroke="#1a1a1a" stroke-width="0.2">(x10<tspan font-size="11.4" dy="-4.6">6</tspan><tspan dy="4.6">/mL)</tspan></text>
<circle cx="87.10" cy="501.70" r="2.2" fill="#ae0e40" stroke="#70062a" stroke-width="0.75"/>
<circle cx="94.40" cy="499.60" r="2.2" fill="#ae0e40" stroke="#70062a" stroke-width="0.75"/>
<circle cx="87.10" cy="518.80" r="2.2" fill="#ae0e40" stroke="#70062a" stroke-width="0.75"/>
<circle cx="94.20" cy="518.80" r="2.2" fill="#ae0e40" stroke="#70062a" stroke-width="0.75"/>
<circle cx="90.90" cy="539.70" r="2.2" fill="#ae0e40" stroke="#70062a" stroke-width="0.75"/>
<line x1="90.40" y1="508.60" x2="90.40" y2="523.40" stroke="#7c0628" stroke-width="1.35" stroke-linecap="butt"/>
<line x1="84.80" y1="508.60" x2="96.00" y2="508.60" stroke="#7c0628" stroke-width="1.35" stroke-linecap="butt"/>
<line x1="84.80" y1="523.40" x2="96.00" y2="523.40" stroke="#7c0628" stroke-width="1.35" stroke-linecap="butt"/>
<line x1="78.90" y1="515.90" x2="101.90" y2="515.90" stroke="#7c0628" stroke-width="1.7" stroke-linecap="butt"/>
<circle cx="124.60" cy="555.80" r="2.2" fill="#354d83" stroke="#1d2a50" stroke-width="0.75"/>
<circle cx="124.60" cy="584.50" r="2.2" fill="#354d83" stroke="#1d2a50" stroke-width="0.75"/>
<circle cx="117.40" cy="595.30" r="2.2" fill="#354d83" stroke="#1d2a50" stroke-width="0.75"/>
<circle cx="131.70" cy="595.30" r="2.2" fill="#354d83" stroke="#1d2a50" stroke-width="0.75"/>
<circle cx="124.60" cy="598.80" r="2.2" fill="#354d83" stroke="#1d2a50" stroke-width="0.75"/>
<line x1="124.50" y1="577.80" x2="124.50" y2="593.90" stroke="#1c3058" stroke-width="1.35" stroke-linecap="butt"/>
<line x1="118.90" y1="577.80" x2="130.10" y2="577.80" stroke="#1c3058" stroke-width="1.35" stroke-linecap="butt"/>
<line x1="118.90" y1="593.90" x2="130.10" y2="593.90" stroke="#1c3058" stroke-width="1.35" stroke-linecap="butt"/>
<line x1="113.00" y1="586.00" x2="136.00" y2="586.00" stroke="#1c3058" stroke-width="1.7" stroke-linecap="butt"/>
<circle cx="150.90" cy="593.50" r="2.2" fill="#354d83" stroke="#1d2a50" stroke-width="0.75"/>
<circle cx="155.30" cy="594.50" r="2.2" fill="#354d83" stroke="#1d2a50" stroke-width="0.75"/>
<circle cx="158.80" cy="596.20" r="2.2" fill="#354d83" stroke="#1d2a50" stroke-width="0.75"/>
<circle cx="162.90" cy="594.20" r="2.2" fill="#354d83" stroke="#1d2a50" stroke-width="0.75"/>
<circle cx="167.30" cy="593.80" r="2.2" fill="#354d83" stroke="#1d2a50" stroke-width="0.75"/>
<line x1="158.50" y1="593.97" x2="158.50" y2="594.91" stroke="#1c3058" stroke-width="1.35" stroke-linecap="butt"/>
<line x1="152.90" y1="593.97" x2="164.10" y2="593.97" stroke="#1c3058" stroke-width="1.35" stroke-linecap="butt"/>
<line x1="152.90" y1="594.91" x2="164.10" y2="594.91" stroke="#1c3058" stroke-width="1.35" stroke-linecap="butt"/>
<line x1="147.00" y1="594.50" x2="170.00" y2="594.50" stroke="#1c3058" stroke-width="1.7" stroke-linecap="butt"/>
<circle cx="192.10" cy="575.30" r="2.2" fill="#354d83" stroke="#1d2a50" stroke-width="0.75"/>
<circle cx="184.10" cy="579.30" r="2.2" fill="#354d83" stroke="#1d2a50" stroke-width="0.75"/>
<circle cx="201.40" cy="579.00" r="2.2" fill="#354d83" stroke="#1d2a50" stroke-width="0.75"/>
<circle cx="189.30" cy="585.40" r="2.2" fill="#354d83" stroke="#1d2a50" stroke-width="0.75"/>
<circle cx="195.30" cy="584.20" r="2.2" fill="#354d83" stroke="#1d2a50" stroke-width="0.75"/>
<line x1="192.50" y1="578.79" x2="192.50" y2="582.49" stroke="#1c3058" stroke-width="1.35" stroke-linecap="butt"/>
<line x1="186.90" y1="578.79" x2="198.10" y2="578.79" stroke="#1c3058" stroke-width="1.35" stroke-linecap="butt"/>
<line x1="186.90" y1="582.49" x2="198.10" y2="582.49" stroke="#1c3058" stroke-width="1.35" stroke-linecap="butt"/>
<line x1="181.00" y1="580.30" x2="204.00" y2="580.30" stroke="#1c3058" stroke-width="1.7" stroke-linecap="butt"/>
<circle cx="226.70" cy="569.00" r="2.2" fill="#354d83" stroke="#1d2a50" stroke-width="0.75"/>
<circle cx="218.10" cy="576.30" r="2.2" fill="#354d83" stroke="#1d2a50" stroke-width="0.75"/>
<circle cx="235.40" cy="573.40" r="2.2" fill="#354d83" stroke="#1d2a50" stroke-width="0.75"/>
<circle cx="223.80" cy="579.70" r="2.2" fill="#354d83" stroke="#1d2a50" stroke-width="0.75"/>
<circle cx="229.90" cy="578.90" r="2.2" fill="#354d83" stroke="#1d2a50" stroke-width="0.75"/>
<line x1="226.60" y1="573.50" x2="226.60" y2="577.42" stroke="#1c3058" stroke-width="1.35" stroke-linecap="butt"/>
<line x1="221.00" y1="573.50" x2="232.20" y2="573.50" stroke="#1c3058" stroke-width="1.35" stroke-linecap="butt"/>
<line x1="221.00" y1="577.42" x2="232.20" y2="577.42" stroke="#1c3058" stroke-width="1.35" stroke-linecap="butt"/>
<line x1="215.10" y1="575.20" x2="238.10" y2="575.20" stroke="#1c3058" stroke-width="1.7" stroke-linecap="butt"/>
<polygon points="116.28,545.65 116.93,547.24 118.65,547.38 117.34,548.50 117.74,550.17 116.28,549.27 114.81,550.17 115.21,548.50 113.90,547.38 115.62,547.24" fill="#000"/>
<polygon points="121.96,545.65 122.62,547.24 124.34,547.38 123.02,548.50 123.43,550.17 121.96,549.27 120.49,550.17 120.89,548.50 119.58,547.38 121.30,547.24" fill="#000"/>
<polygon points="127.64,545.65 128.30,547.24 130.02,547.38 128.71,548.50 129.11,550.17 127.64,549.27 126.17,550.17 126.58,548.50 125.26,547.38 126.98,547.24" fill="#000"/>
<polygon points="133.32,545.65 133.98,547.24 135.70,547.38 134.39,548.50 134.79,550.17 133.32,549.27 131.86,550.17 132.26,548.50 130.95,547.38 132.67,547.24" fill="#000"/>
<polygon points="150.18,579.70 150.83,581.29 152.55,581.43 151.24,582.55 151.64,584.22 150.18,583.32 148.71,584.22 149.11,582.55 147.80,581.43 149.52,581.29" fill="#000"/>
<polygon points="155.89,579.70 156.55,581.29 158.27,581.43 156.96,582.55 157.36,584.22 155.89,583.32 154.42,584.22 154.83,582.55 153.51,581.43 155.23,581.29" fill="#000"/>
<polygon points="161.61,579.70 162.27,581.29 163.99,581.43 162.67,582.55 163.08,584.22 161.61,583.32 160.14,584.22 160.54,582.55 159.23,581.43 160.95,581.29" fill="#000"/>
<polygon points="167.32,579.70 167.98,581.29 169.70,581.43 168.39,582.55 168.79,584.22 167.32,583.32 165.86,584.22 166.26,582.55 164.95,581.43 166.67,581.29" fill="#000"/>
<polygon points="184.18,564.85 184.83,566.44 186.55,566.58 185.24,567.70 185.64,569.37 184.18,568.47 182.71,569.37 183.11,567.70 181.80,566.58 183.52,566.44" fill="#000"/>
<polygon points="189.79,564.85 190.45,566.44 192.17,566.58 190.86,567.70 191.26,569.37 189.79,568.47 188.32,569.37 188.73,567.70 187.41,566.58 189.13,566.44" fill="#000"/>
<polygon points="195.41,564.85 196.07,566.44 197.79,566.58 196.47,567.70 196.88,569.37 195.41,568.47 193.94,569.37 194.34,567.70 193.03,566.58 194.75,566.44" fill="#000"/>
<polygon points="201.03,564.85 201.68,566.44 203.40,566.58 202.09,567.70 202.49,569.37 201.03,568.47 199.56,569.37 199.96,567.70 198.65,566.58 200.37,566.44" fill="#000"/>
<polygon points="218.18,557.90 218.83,559.49 220.55,559.63 219.24,560.75 219.64,562.42 218.18,561.52 216.71,562.42 217.11,560.75 215.80,559.63 217.52,559.49" fill="#000"/>
<polygon points="223.79,557.90 224.45,559.49 226.17,559.63 224.86,560.75 225.26,562.42 223.79,561.52 222.32,562.42 222.73,560.75 221.41,559.63 223.13,559.49" fill="#000"/>
<polygon points="229.41,557.90 230.07,559.49 231.79,559.63 230.47,560.75 230.88,562.42 229.41,561.52 227.94,562.42 228.34,560.75 227.03,559.63 228.75,559.49" fill="#000"/>
<polygon points="235.03,557.90 235.68,559.49 237.40,559.63 236.09,560.75 236.49,562.42 235.03,561.52 233.56,562.42 233.96,560.75 232.65,559.63 234.37,559.49" fill="#000"/>
</g>
<rect x="1" y="1" width="518" height="656" fill="none" stroke="#000" stroke-width="2"/>
</svg>
</body></html>
